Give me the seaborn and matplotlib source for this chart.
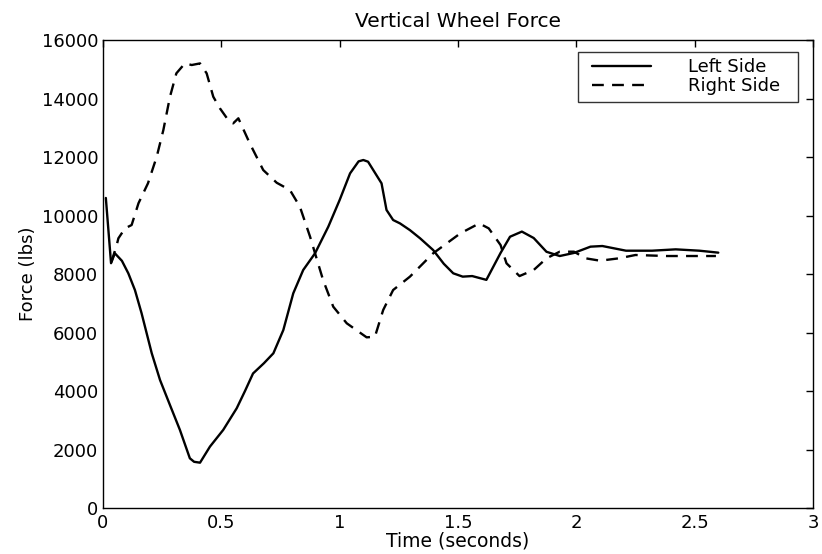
import matplotlib
matplotlib.use("Agg")
import matplotlib.pyplot as plt
from matplotlib.path import Path
import seaborn as sns
import pandas as pd

# ---- data ----
left_time = [0.012, 0.034, 0.05, 0.08, 0.107, 0.135, 0.163, 0.206, 0.241, 0.283,
             0.325, 0.367, 0.385, 0.41, 0.452, 0.508, 0.565, 0.6, 0.634, 0.68,
             0.72, 0.762, 0.804, 0.846, 0.896, 0.952, 1.0, 1.044, 1.08, 1.1,
             1.12, 1.177, 1.198, 1.226, 1.255, 1.297, 1.34, 1.395, 1.44, 1.48,
             1.52, 1.56, 1.62, 1.68, 1.72, 1.77, 1.82, 1.874, 1.93, 1.99,
             2.06, 2.11, 2.21, 2.32, 2.42, 2.52, 2.6]
left_force = [10600, 8370, 8710, 8450, 8024, 7450, 6660, 5290, 4376, 3520,
              2670, 1700, 1580, 1550, 2100, 2670, 3410, 4000, 4600, 4950,
              5290, 6085, 7340, 8137, 8708, 9617, 10530, 11440, 11850, 11897,
              11840, 11100, 10190, 9846, 9730, 9500, 9220, 8820, 8350, 8024,
              7910, 7930, 7800, 8720, 9275, 9450, 9230, 8760, 8615, 8720,
              8935, 8957, 8797, 8797, 8843, 8797, 8730]

right_time = [0.035, 0.058, 0.065, 0.093, 0.121, 0.15, 0.19, 0.227, 0.255, 0.283,
              0.31, 0.346, 0.375, 0.41, 0.438, 0.466, 0.494, 0.529, 0.55, 0.572,
              0.62, 0.677, 0.734, 0.79, 0.832, 0.875, 0.896, 0.93, 0.973, 1.03,
              1.114, 1.149, 1.184, 1.226, 1.297, 1.395, 1.51, 1.59, 1.63, 1.68,
              1.705, 1.76, 1.82, 1.874, 1.93, 1.99, 2.04, 2.1, 2.18, 2.25,
              2.38, 2.52, 2.59]
right_force = [8400, 8990, 9220, 9560, 9675, 10420, 11100, 12010, 12920, 14060,
               14860, 15200, 15145, 15200, 14860, 14060, 13665, 13265, 13150, 13323,
               12470, 11555, 11120, 10870, 10300, 9275, 8708, 7795, 6882, 6315,
               5835, 5855, 6770, 7453, 7910, 8707, 9390, 9730, 9560, 8990,
               8366, 7930, 8137, 8536, 8763, 8763, 8536, 8455, 8536, 8650,
               8615, 8615, 8615]

x_ticks = [0, 0.5, 1, 1.5, 2, 2.5, 3]
x_tick_labels = ["0", "0.5", "1", "1.5", "2", "2.5", "3"]
y_ticks = [0, 2000, 4000, 6000, 8000, 10000, 12000, 14000, 16000]
series_names = ["Left Side", "Right Side"]

sns.set_theme(style="white")
plt.rcParams['font.family'] = ['DejaVu Sans']
plt.rcParams['text.color'] = 'black'
plt.rcParams['axes.labelcolor'] = 'black'

df_left = pd.DataFrame({"t": left_time, "f": left_force})
df_right = pd.DataFrame({"t": right_time, "f": right_force})

fig = plt.figure(figsize=(8.22, 5.54), dpi=100)
ax = fig.add_axes([0.1253, 0.083, 0.8637, 0.8448])

sns.lineplot(data=df_left, x="t", y="f", ax=ax, color="black", lw=1.7,
             label=series_names[0], sort=False)
sns.lineplot(data=df_right, x="t", y="f", ax=ax, color="black", lw=1.7,
             label=series_names[1], sort=False)
ax.lines[1].set_dashes([5, 3.5])

ax.set_xlim(0, 3)
ax.set_ylim(0, 16000)
ax.set_xticks(x_ticks)
ax.set_xticklabels(x_tick_labels)
ax.set_yticks(y_ticks)
ax.tick_params(direction="in", length=5, width=1, top=True, right=True,
               labelsize=13, colors="black")
ax.tick_params(axis="x", pad=4)
ax.tick_params(axis="y", pad=3.5)
for s in ax.spines.values():
    s.set_color("black")
    s.set_linewidth(1.0)

ax.set_title("Vertical Wheel Force", fontsize=14.5, pad=9, color="black")
ax.set_xlabel("Time (seconds)", fontsize=13.5, labelpad=0)
ax.set_ylabel("Force (lbs)", fontsize=13, labelpad=3)

leg = ax.legend(loc="upper right", bbox_to_anchor=(0.962, 0.9744), frameon=True,
                fancybox=False, edgecolor="black", fontsize=13,
                handlelength=3.3, handletextpad=2.0, borderpad=0.35,
                labelspacing=0.05, borderaxespad=0)
leg.get_frame().set_linewidth(1.0)
leg.get_lines()[1].set_dashes([5, 3.5])
for t in leg.get_texts():
    t.set_color("black")


def wide_box(x0, y0, width, height, mutation_size):
    # extra horizontal padding (pixels) on left / right of legend frame
    l, r = 8, 12
    xa, xb = x0 - l, x0 + width + r
    ya, yb = y0, y0 + height
    return Path([(xa, ya), (xb, ya), (xb, yb), (xa, yb), (xa, ya)], closed=True)


leg.get_frame().set_boxstyle(wide_box)

fig.savefig("out.png", dpi=100)
